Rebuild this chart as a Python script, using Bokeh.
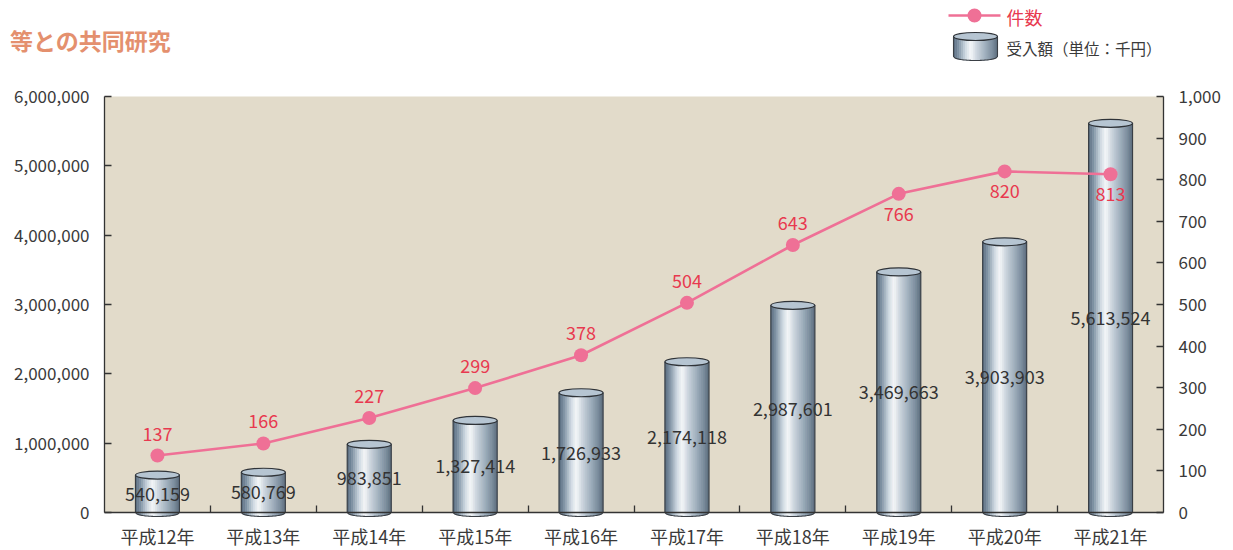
import numpy as np
from bokeh.plotting import figure
from bokeh.models import (Range1d, LinearAxis, FixedTicker, NumeralTickFormatter,
                          BoxAnnotation, Label)
from bokeh.core.properties import value
from bokeh.embed import file_html
from bokeh.resources import INLINE

# ---------------- data ----------------
categories = ["平成12年", "平成13年", "平成14年", "平成15年", "平成16年",
              "平成17年", "平成18年", "平成19年", "平成20年", "平成21年"]
amounts = [540159, 580769, 983851, 1327414, 1726933,
           2174118, 2987601, 3469663, 3903903, 5613524]
counts = [137, 166, 227, 299, 378, 504, 643, 766, 820, 813]
left_ticks = [0, 1000000, 2000000, 3000000, 4000000, 5000000, 6000000]
right_ticks = [0, 100, 200, 300, 400, 500, 600, 700, 800, 900, 1000]
title_text = "等との共同研究"
legend_count = "件数"
legend_amount = "受入額（単位：千円）"

# ---------------- layout (canvas px) ----------------
W, H = 1233, 550
FL, FR = 104, 1163
ZERO_Y, TOP_Y = 512, 96
LMAX = left_ticks[-1]
RMAX = right_ticks[-1]
n = len(categories)
UPP = LMAX / (ZERO_Y - TOP_Y)      # data units per px (left axis)
PXC = (FR - FL) / n                # px per category


def X(cx):
    return (cx - FL) / PXC


def Y(cy):
    return (ZERO_Y - cy) * UPP


FONT = "Noto Sans CJK JP"
TXT = "#3a3a3a"
PINK = "#ef7096"
RED = "#e8394f"
BEIGE = "#e2dbca"
AXC = "#333333"

p = figure(width=W, height=H, x_range=Range1d(X(0), X(W)),
           y_range=Range1d(Y(H), Y(0)),
           output_backend="svg", toolbar_location=None, title=None,
           min_border_left=0, min_border_right=0,
           min_border_top=0, min_border_bottom=0)
p.background_fill_color = "white"
p.border_fill_color = "white"
p.outline_line_color = None
p.xgrid.visible = False
p.ygrid.visible = False

p.extra_y_ranges = {"count": Range1d(Y(H) * RMAX / LMAX, Y(0) * RMAX / LMAX)}

p.add_layout(BoxAnnotation(left=0, right=n, bottom=0, top=LMAX,
                           fill_color=BEIGE, fill_alpha=1, line_color=None,
                           level="underlay"))


def style_axis(ax, ticks, standoff):
    ax.ticker = FixedTicker(ticks=ticks)
    ax.formatter = NumeralTickFormatter(format="0,0")
    ax.bounds = (ticks[0], ticks[-1])
    ax.major_tick_in = 7
    ax.major_tick_out = 0
    ax.minor_tick_line_color = None
    ax.axis_line_color = AXC
    ax.axis_line_width = 1.3
    ax.major_tick_line_color = AXC
    ax.major_tick_line_width = 1.3
    ax.major_label_text_font = FONT
    ax.major_label_text_font_size = "17px"
    ax.major_label_text_color = TXT
    ax.major_label_standoff = standoff


lax = p.yaxis[0]
style_axis(lax, left_ticks, 15)
lax.fixed_location = 0

rax = LinearAxis(y_range_name="count", fixed_location=n)
style_axis(rax, right_ticks, 15)
p.add_layout(rax, "right")

centers = [i + 0.5 for i in range(n)]
bounds_x = list(range(1, n))

xax = p.xaxis[0]
xax.fixed_location = 0
xax.bounds = (0, n)
xax.ticker = FixedTicker(ticks=centers, minor_ticks=bounds_x)
xax.major_label_overrides = {c: name for c, name in zip(centers, categories)}
xax.major_tick_line_color = None
xax.minor_tick_in = 7
xax.minor_tick_out = 0
xax.minor_tick_line_color = AXC
xax.minor_tick_line_width = 1.3
xax.axis_line_color = AXC
xax.axis_line_width = 1.3
xax.major_label_text_font = FONT
xax.major_label_text_font_size = "18px"
xax.major_label_text_color = TXT
xax.major_label_standoff = 4

# ---------------- cylinders ----------------
stops = [(0.0, (0x55, 0x68, 0x7b)), (0.12, (0x7f, 0x93, 0xa5)), (0.28, (0xcf, 0xd9, 0xe2)),
         (0.4, (0xf5, 0xf8, 0xfa)), (0.52, (0xcf, 0xd8, 0xe0)), (0.72, (0xa0, 0xb0, 0xbe)),
         (0.9, (0x78, 0x8a, 0x9b)), (1.0, (0x5a, 0x6b, 0x7c))]


def grad(t):
    for (t0, c0), (t1, c1) in zip(stops[:-1], stops[1:]):
        if t <= t1:
            f = (t - t0) / (t1 - t0)
            c = [int(round(a + (b - a) * f)) for a, b in zip(c0, c1)]
            return "#%02x%02x%02x" % tuple(c)
    return "#%02x%02x%02x" % stops[-1][1]


BW = 44 / PXC
E = 4 * UPP
NS = 22


def draw_cylinders(xcs, bots, tops):
    pxs, pys, cols = [], [], []
    oxs, oys = [], []
    for xc, b, t in zip(xcs, bots, tops):
        for k in range(NS):
            l = xc - BW / 2 + k * BW / NS
            r = l + BW / NS
            ul = (l - xc) / (BW / 2)
            ur = (r - xc) / (BW / 2)
            bl = b - E * np.sqrt(max(0.0, 1 - ul ** 2))
            br = b - E * np.sqrt(max(0.0, 1 - ur ** 2))
            pxs.append([l, r, r, l])
            pys.append([bl, br, t, t])
            cols.append(grad((k + 0.5) / NS))
        u = np.linspace(-1, 1, 41)
        ox = [xc - BW / 2] + list(xc + BW / 2 * u) + [xc + BW / 2]
        oy = [t] + list(b - E * np.sqrt(1 - u ** 2)) + [t]
        oxs.append(ox)
        oys.append(oy)
    p.patches(xs=pxs, ys=pys, fill_color=cols, line_color=cols, line_width=0.6)
    p.multi_line(xs=oxs, ys=oys, line_color="#3a3f45", line_width=1.1)
    p.ellipse(x=list(xcs), y=list(tops), width=BW, height=8, height_units="screen",
              fill_color="#b6c5d2", line_color="#2f3338", line_width=1.2)


draw_cylinders(centers, [0] * n, amounts)

# bar value labels (middle of bar)
p.text(x=centers, y=[a / 2 for a in amounts], text=[f"{a:,}" for a in amounts],
       text_align="center", text_baseline="middle", text_font=value(FONT),
       text_font_size="18px", text_color="#333333")

# ---------------- line ----------------
p.line(x=centers, y=counts, y_range_name="count", line_color=PINK, line_width=2.6)
p.scatter(x=centers, y=counts, y_range_name="count", size=14, fill_color=PINK,
          line_color=None)
LABEL_DY = [-22, -22, -22, -22, -22, -22, -22, 20, 20, 20]
for xc, c, dy in zip(centers, counts, LABEL_DY):
    p.add_layout(Label(x=xc, y=c, y_range_name="count", text=str(c), y_offset=-dy,
                       text_align="center", text_baseline="middle", text_font=FONT,
                       text_font_size="18px", text_color=RED))

# ---------------- title ----------------
p.add_layout(Label(x=X(9.5), y=Y(39), text=title_text, text_align="left",
                   text_baseline="middle", text_font=FONT, text_font_size="23px",
                   text_font_style="bold", text_color="#e4906e"))

# ---------------- legend ----------------
p.line(x=[X(948), X(1000)], y=[Y(15), Y(15)], line_color=PINK, line_width=2.6)
p.scatter(x=[X(974)], y=[Y(15)], size=14, fill_color=PINK, line_color=None)
p.add_layout(Label(x=X(1006), y=Y(16.5), text=legend_count, text_align="left",
                   text_baseline="middle", text_font=FONT, text_font_size="18px",
                   text_color=RED))
draw_cylinders([X(975)], [Y(56)], [Y(36)])
p.add_layout(Label(x=X(1006), y=Y(47), text=legend_amount, text_align="left",
                   text_baseline="middle", text_font=FONT, text_font_size="15.5px",
                   text_color=TXT))

open("out.html", "w").write(file_html(p, INLINE))
